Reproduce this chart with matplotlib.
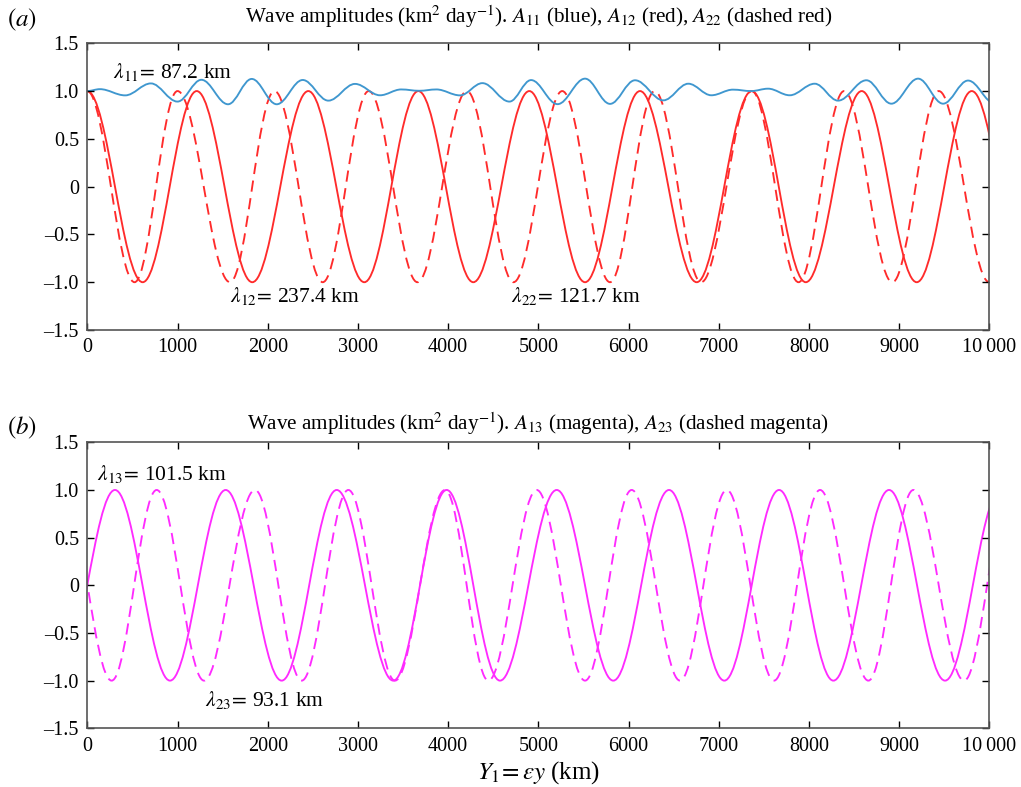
import matplotlib
matplotlib.use('Agg')
from matplotlib import pyplot as plt
from matplotlib.path import Path
from matplotlib.patches import PathPatch

# fonts: Times-like text and math
plt.rcParams['font.family'] = ['Liberation Serif', 'DejaVu Serif']
plt.rcParams['mathtext.fontset'] = 'stix'
plt.rcParams['font.size'] = 14
plt.rc('axes', edgecolor='#555555', linewidth=1.2)
plt.rc('xtick', direction='in', top=True, labelsize=14.5)
plt.rc('ytick', direction='in', right=True, labelsize=14.5)
plt.rc('xtick.major', size=5, width=1.0, pad=6)
plt.rc('ytick.major', size=5, width=1.0, pad=6)

# extrema (position in km, amplitude)
a11_x = [0, 140, 420, 705, 1000, 1265, 1560, 1823, 2100, 2388, 2672, 2968, 3245,
         3480, 3680, 3870, 4132, 4380, 4680, 4920, 5213, 5518, 5795, 6072, 6386,
         6663, 6918, 7158, 7360, 7547, 7787, 8064, 8323, 8637, 8914, 9210, 9487,
         9764, 10060]
a11_y = [1.0, 1.02, 0.955, 1.08, 0.89, 1.118, 0.862, 1.127, 0.862, 1.116, 0.90,
         1.075, 0.956, 1.017, 1.003, 1.017, 0.955, 1.083, 0.89, 1.115, 0.863, 1.13,
         0.866, 1.113, 0.903, 1.077, 0.956, 1.015, 1.0, 1.025, 0.956, 1.077, 0.90,
         1.113, 0.868, 1.13, 0.868, 1.11, 0.87]

a12_x = [0, 614, 1213, 1829, 2450, 3071, 3670, 4279, 4900, 5518, 6127, 6756,
         7366, 7965, 8585, 9195, 9805, 10420]
a12_y = [1, -1] * 9

a22_x = [0, 524, 1000, 1582, 2075, 2610, 3120, 3660, 4208, 4725, 5265, 5795,
         6290, 6805, 7366, 7885, 8390, 8925, 9440, 10000]
a22_y = [1, -1] * 10

a13_x = [-308, 307, 917, 1534, 2155, 2765, 3392, 3984, 4575, 5204, 5831, 6449,
         7062, 7669, 8271, 8888, 9509, 10125]
a13_y = [-1, 1] * 9

a23_x = [-265, 270, 769, 1294, 1859, 2377, 2894, 3411, 3966, 4446, 4982, 5518,
         6035, 6571, 7089, 7613, 8123, 8659, 9158, 9720, 10230]
a23_y = [1, -1] * 10 + [1]

xticks = [0, 1000, 2000, 3000, 4000, 5000, 6000, 7000, 8000, 9000, 10000]
xticklabels = ['0', '1000', '2000', '3000', '4000', '5000', '6000', '7000',
               '8000', '9000', '10\u2009000']
yticks = [1.5, 1.0, 0.5, 0, -0.5, -1.0, -1.5]
yticklabels = ['1.5', '1.0', '0.5', '0', '\u20130.5', '\u20131.0', '\u20131.5']

BLUE = '#3f97cf'
RED = '#ff2b2b'
MAGENTA = '#ff2bff'
DASH = (0, (6, 3.5))


def wave(ax, xs, ys, color, ls='-'):
    # smooth curve through the extrema, horizontal tangent at each one
    verts = [(xs[0], ys[0])]
    codes = [Path.MOVETO]
    for x0, y0, x1, y1 in zip(xs[:-1], ys[:-1], xs[1:], ys[1:]):
        h = (x1 - x0) * 0.3634
        verts += [(x0 + h, y0), (x1 - h, y1), (x1, y1)]
        codes += [Path.CURVE4] * 3
    ax.add_patch(PathPatch(Path(verts, codes), fill=False, edgecolor=color,
                           lw=1.35, linestyle=ls))


fig = plt.figure(figsize=(10.21, 7.87), dpi=100)
ax1 = fig.add_axes([0.0855, 0.5807, 0.8835, 0.3643])
ax2 = fig.add_axes([0.0855, 0.0746, 0.8835, 0.3634])

wave(ax1, a12_x, a12_y, RED)
wave(ax1, a22_x, a22_y, RED, DASH)
wave(ax1, a11_x, a11_y, BLUE)

wave(ax2, a13_x, a13_y, MAGENTA)
wave(ax2, a23_x, a23_y, MAGENTA, DASH)

for ax in (ax1, ax2):
    ax.set_xlim(0, 10000)
    ax.set_ylim(-1.5, 1.5)
    ax.set_xticks(xticks)
    ax.set_xticklabels(xticklabels)
    ax.set_yticks(yticks)
    ax.set_yticklabels(yticklabels)

ax1.text(0.5, 1.093, r'Wave amplitudes (km$^2$ day$^{-1}$). $A_{11}$ (blue), '
         r'$A_{12}$ (red), $A_{22}$ (dashed red)', transform=ax1.transAxes,
         ha='center', va='center', fontsize=15.2)
ax2.text(0.5, 1.066, r'Wave amplitudes (km$^2$ day$^{-1}$). $A_{13}$ (magenta), '
         r'$A_{23}$ (dashed magenta)', transform=ax2.transAxes,
         ha='center', va='center', fontsize=15.2)
fig.text(0.007, 0.975, r'$(a)$', fontsize=18, ha='left', va='center')
fig.text(0.007, 0.456, r'$(b)$', fontsize=18, ha='left', va='center')

lam = dict(fontsize=15.5, va='center')
ax1.text(285, 1.2, r'$\lambda_{11}\!=\,$87.2 km', **lam)
ax1.text(1582, -1.14, r'$\lambda_{12}\!=\,$237.4 km', **lam)
ax1.text(4698, -1.14, r'$\lambda_{22}\!=\,$121.7 km', **lam)
ax2.text(108, 1.17, r'$\lambda_{13}\!=\,$101.5 km', **lam)
ax2.text(1305, -1.2, r'$\lambda_{23}\!=\,$93.1 km', **lam)

fig.text(0.527, 0.018, r'$Y_1\!=\varepsilon y$ (km)', fontsize=18,
         ha='center', va='center')

fig.savefig('out.png', dpi=100)
